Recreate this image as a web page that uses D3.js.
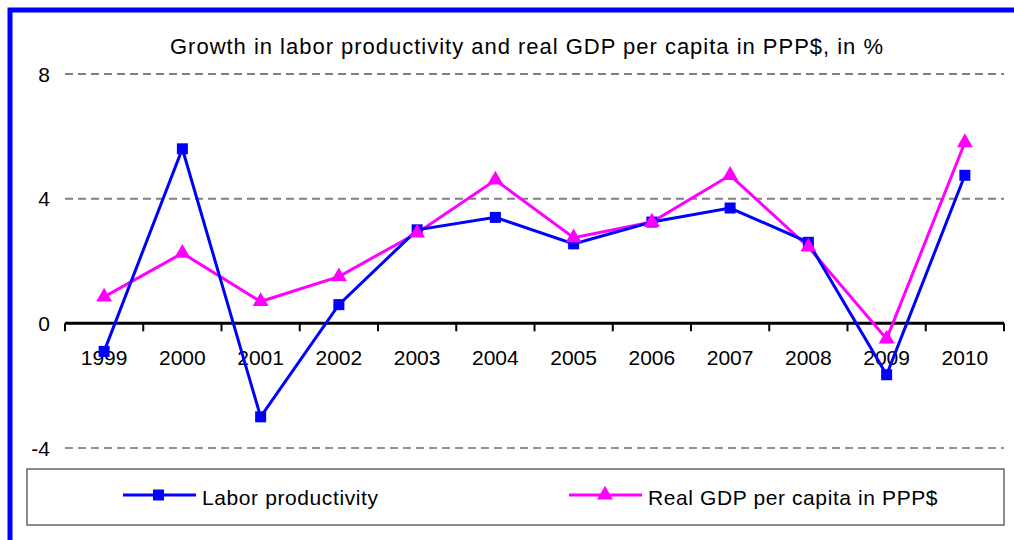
<!DOCTYPE html>
<html>
<head>
<meta charset="utf-8">
<script src="https://cdn.jsdelivr.net/npm/d3@7"></script>
<style>
  body { margin: 0; background: #fff; }
  svg { display: block; font-family: "Liberation Sans", Arial, sans-serif; }
</style>
</head>
<body>
<svg id="chart" width="1014" height="540"></svg>
<script>
// data
var years = ["1999", "2000", "2001", "2002", "2003", "2004", "2005", "2006", "2007", "2008", "2009", "2010"];
var laborProductivity = [-0.9, 5.6, -3.0, 0.6, 3.0, 3.4, 2.55, 3.25, 3.7, 2.6, -1.65, 4.75];
var realGdpPerCapita = [0.85, 2.25, 0.7, 1.5, 2.9, 4.6, 2.75, 3.25, 4.75, 2.45, -0.5, 5.8];
var yTicks = [-4, 0, 4, 8];
var seriesNames = ["Labor productivity", "Real GDP per capita in PPP$"];

var svg = d3.select("#chart");

// blue frame around the chart
svg.append("rect")
  .attr("x", 10).attr("y", 10)
  .attr("width", 1020).attr("height", 560)
  .attr("fill", "none")
  .attr("stroke", "#0000ff")
  .attr("stroke-width", 5);

var x = d3.scaleBand().domain(years).range([65, 1004]).padding(0);
var y = d3.scaleLinear().domain([-4, 8]).range([448, 74]);

// title
svg.append("text")
  .attr("x", 170).attr("y", 54)
  .attr("font-size", 22)
  .attr("textLength", 713)
  .attr("lengthAdjust", "spacing")
  .attr("fill", "#000")
  .text("Growth in labor productivity and real GDP per capita in PPP$, in %");

// gridlines (dashed)
svg.append("g")
  .selectAll("line")
  .data(yTicks.filter(d => d != 0))
  .join("line")
  .attr("x1", 65).attr("x2", 1004)
  .attr("y1", d => y(d)).attr("y2", d => y(d))
  .attr("stroke", d => d < 0 ? "#222" : "#808080")
  .attr("stroke-width", d => d < 0 ? 1 : 2)
  .attr("stroke-dasharray", "8,5");

// y labels
svg.append("g")
  .selectAll("text")
  .data(yTicks)
  .join("text")
  .attr("x", 50)
  .attr("y", d => y(d))
  .attr("dy", "0.36em")
  .attr("text-anchor", "end")
  .attr("font-size", 21)
  .text(d => d);

// x axis at zero
svg.append("line")
  .attr("x1", 65).attr("x2", 1004)
  .attr("y1", y(0)).attr("y2", y(0))
  .attr("stroke", "#000")
  .attr("stroke-width", 3);

var tickPos = years.map(d => x(d)).concat([x.range()[1]]);
svg.append("g")
  .selectAll("line")
  .data(tickPos)
  .join("line")
  .attr("x1", d => d).attr("x2", d => d)
  .attr("y1", y(0)).attr("y2", y(0) + 8)
  .attr("stroke", "#000")
  .attr("stroke-width", 2);

svg.append("g")
  .selectAll("text")
  .data(years)
  .join("text")
  .attr("x", d => x(d) + x.bandwidth() / 2)
  .attr("y", 365)
  .attr("text-anchor", "middle")
  .attr("font-size", 21)
  .text(d => d);

// lines and markers
var line = d3.line()
  .x((d, i) => x(years[i]) + x.bandwidth() / 2)
  .y(d => y(d));

var tri = d3.symbol().type(d3.symbolTriangle).size(110);

svg.append("path")
  .datum(realGdpPerCapita)
  .attr("d", line)
  .attr("fill", "none")
  .attr("stroke", "#ff00ff")
  .attr("stroke-width", 3);

svg.append("path")
  .datum(laborProductivity)
  .attr("d", line)
  .attr("fill", "none")
  .attr("stroke", "#0000ff")
  .attr("stroke-width", 3);

svg.append("g")
  .selectAll("rect")
  .data(laborProductivity)
  .join("rect")
  .attr("x", (d, i) => x(years[i]) + x.bandwidth() / 2 - 5.5)
  .attr("y", d => y(d) - 5.5)
  .attr("width", 11).attr("height", 11)
  .attr("fill", "#0000ff");

svg.append("g")
  .selectAll("path")
  .data(realGdpPerCapita)
  .join("path")
  .attr("d", tri)
  .attr("transform", (d, i) => "translate(" + (x(years[i]) + x.bandwidth() / 2) + "," + y(d) + ")")
  .attr("fill", "#ff00ff");

// legend
var legend = svg.append("g");
legend.append("rect")
  .attr("x", 27).attr("y", 469)
  .attr("width", 977).attr("height", 56)
  .attr("fill", "#fff")
  .attr("stroke", "#666")
  .attr("stroke-width", 1.5);

var legX = [123, 569];
var legColors = ["#0000ff", "#ff00ff"];
seriesNames.forEach(function(name, i) {
  var g = legend.append("g").attr("transform", "translate(" + legX[i] + ",495)");
  g.append("line")
    .attr("x1", 0).attr("x2", 73)
    .attr("stroke", legColors[i])
    .attr("stroke-width", 3);
  if (i == 0) {
    g.append("rect").attr("x", 30).attr("y", -5.5).attr("width", 11).attr("height", 11).attr("fill", legColors[i]);
  } else {
    g.append("path").attr("d", tri).attr("transform", "translate(36,0)").attr("fill", legColors[i]);
  }
  g.append("text")
    .attr("x", 79).attr("y", 10)
    .attr("font-size", 21)
    .attr("letter-spacing", 0.6)
    .text(name);
});
</script>
</body>
</html>
